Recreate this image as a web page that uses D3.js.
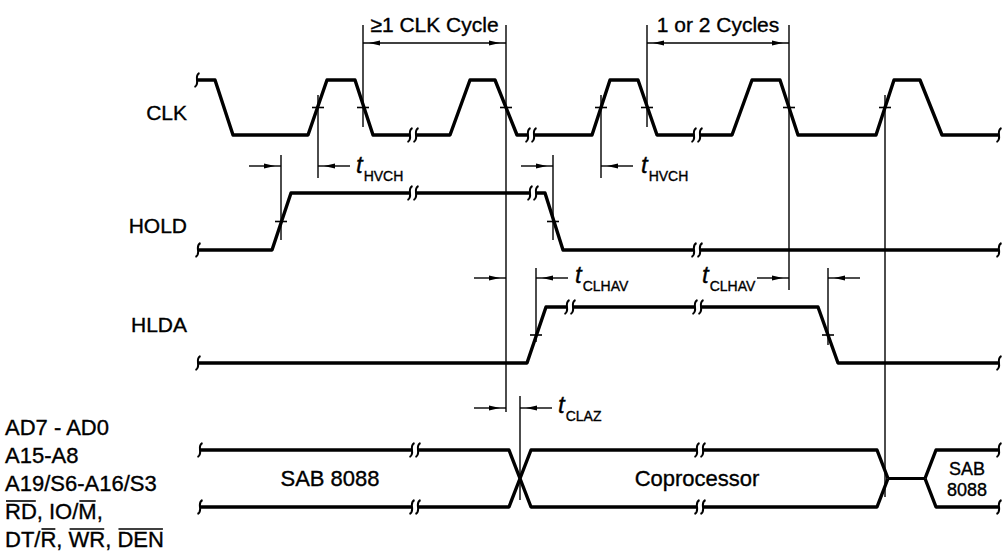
<!DOCTYPE html>
<html lang="en">
<head>
<meta charset="UTF-8">
<script src="https://cdnjs.cloudflare.com/ajax/libs/d3/7.9.0/d3.min.js"></script>
<title>HOLD / HLDA timing</title>
<style>
    body { margin: 0; background: white; }
    svg { display: block; font-family: "Liberation Sans", Arial, sans-serif; }
    text { stroke: black; stroke-width: 0.35; }
</style>
</head>
<body>
<div id="content"></div>
<script>
// waveforms: [time, level]
const clkWave = [[197,1],[215,1],[233,0],[308,0],[327,1],[355,1],[373,0],[450,0],[470,1],[495,1],[517,0],
    [592,0],[610,1],[638,1],[657,0],[732,0],[752,1],[780,1],[798,0],[876,0],[894,1],[920,1],[942,0],[999,0]];
const holdWave = [[198,0],[272,0],[291,1],[545,1],[563,0],[999,0]];
const hldaWave = [[198,0],[527,0],[546,1],[818,1],[838,0],[999,0]];

// break marks on each signal (time)
const clkBreaks = [413, 531, 697];
const holdBreaks = [413, 533, 697];
const hldaBreaks = [570, 698];
const busBreaks = [415, 700];

// bus states
const busStates = [
    { label: ["SAB 8088"], t0: 200, t1: 520, at: 330, open0: true },
    { label: ["Coprocessor"], t0: 520, t1: 888, at: 697 },
    { label: ["SAB", "8088"], t0: 925, t1: 999, at: 967, open1: true }
];
const busFloat = [[888, 925]];

const signalNames = ["CLK", "HOLD", "HLDA"];
const busNames = [
    [{ s: "AD7 - AD0" }],
    [{ s: "A15-A8" }],
    [{ s: "A19/S6-A16/S3" }],
    [{ s: "RD", o: 1 }, { s: ", IO/" }, { s: "M", o: 1 }, { s: "," }],
    [{ s: "DT/" }, { s: "R", o: 1 }, { s: ", " }, { s: "WR", o: 1 }, { s: ", " }, { s: "DEN", o: 1 }]
];

// reference lines: time, top, bottom
const refTimes = [318, 363, 506, 601, 647, 789, 885, 281, 553, 536, 828, 520];
const refTops = [95, 25, 25, 95, 25, 25, 95, 155, 155, 268, 268, 396];
const refBottoms = [178, 127, 412, 178, 127, 290, 497, 240, 240, 342, 345, 500];

// edge crossings marked with a tick
const crossSignals = ["clk","clk","clk","clk","clk","clk","clk","hold","hold","hlda","hlda"];
const crossTimes = [318, 363, 506, 601, 647, 789, 885, 281, 553, 536, 828];

// dimension arrows: time of line, side (-1 from left, 1 from right)
const dimTimes = [281, 553, 318, 601, 506, 536, 789, 828, 506, 520];
const dimSides = [-1, -1, 1, 1, -1, 1, -1, 1, -1, 1];
const dimRows = [166, 166, 166, 166, 278, 278, 278, 278, 408, 408];

// timing parameter labels
const paramNames = ["HVCH", "HVCH", "CLHAV", "CLHAV", "CLAZ"];
const paramTimes = [356, 641, 575, 702, 558];
const paramRows = [173, 173, 283, 283, 413];

// cycle brackets
const brackets = [
    { text: "≥1 CLK Cycle", t0: 363, t1: 506 },
    { text: "1 or 2 Cycles", t0: 647, t1: 789 }
];

const width = 1004, height = 556;
const svg = d3.select("#content").append("svg").attr("width", width).attr("height", height);
svg.append("rect").attr("width", width).attr("height", height).attr("fill", "white");

const x = d3.scaleLinear().domain([0, 1004]).range([0, 1004]);
const rows = {
    clk: d3.scaleLinear().domain([0, 1]).range([135, 80]),
    hold: d3.scaleLinear().domain([0, 1]).range([250, 193]),
    hlda: d3.scaleLinear().domain([0, 1]).range([363, 307]),
    bus: d3.scaleLinear().domain([0, 1]).range([507, 450])
};

const squig = (cx, cy) => `M${cx + 2.5},${cy - 7} C${cx - 4},${cy - 4} ${cx + 4},${cy + 4} ${cx - 2.5},${cy + 7}`;

function levelAt(wave, t) {
    for (let i = 1; i < wave.length; i++) {
        if (t <= wave[i][0]) {
            const a = wave[i - 1], b = wave[i];
            return a[1] + (b[1] - a[1]) * (t - a[0]) / (b[0] - a[0]);
        }
    }
    return wave[wave.length - 1][1];
}

const gRef = svg.append("g").attr("stroke", "black").attr("stroke-width", 1.4);
refTimes.forEach((t, i) => {
    gRef.append("line").attr("x1", x(t)).attr("x2", x(t)).attr("y1", refTops[i]).attr("y2", refBottoms[i]);
});

// waveforms
const line = (y) => d3.line().x(d => x(d[0])).y(d => y(d[1]));
const waves = { clk: [clkWave, clkBreaks], hold: [holdWave, holdBreaks], hlda: [hldaWave, hldaBreaks] };
Object.entries(waves).forEach(([k, [wave, brk]]) => {
    const y = rows[k];
    svg.append("path").attr("d", line(y)(wave)).attr("fill", "none").attr("stroke", "black")
        .attr("stroke-width", 3.4).attr("stroke-linejoin", "round");
    brk.forEach(t => {
        const cy = y(levelAt(wave, t));
        svg.append("rect").attr("x", x(t) - 3).attr("y", cy - 3).attr("width", 6).attr("height", 6).attr("fill", "white");
        [-3, 3].forEach(dx => svg.append("path").attr("d", squig(x(t) + dx, cy)).attr("fill", "none")
            .attr("stroke", "black").attr("stroke-width", 2));
    });
    const first = wave[0], last = wave[wave.length - 1];
    [first, last].forEach(p => svg.append("path").attr("d", squig(x(p[0]), y(p[1]))).attr("fill", "none")
        .attr("stroke", "black").attr("stroke-width", 2));
});

// bus
const yb = rows.bus, r = 11;
busStates.forEach(s => {
    const top = yb(1), bot = yb(0), mid = yb(0.5);
    const a = s.open0 ? x(s.t0) : x(s.t0) + r, b = s.open1 ? x(s.t1) : x(s.t1) - r;
    const dTop = (s.open0 ? `M${a},${top}` : `M${x(s.t0)},${mid} L${a},${top}`) + ` L${b},${top}` + (s.open1 ? "" : ` L${x(s.t1)},${mid}`);
    const dBot = (s.open0 ? `M${a},${bot}` : `M${x(s.t0)},${mid} L${a},${bot}`) + ` L${b},${bot}` + (s.open1 ? "" : ` L${x(s.t1)},${mid}`);
    [dTop, dBot].forEach(d => svg.append("path").attr("d", d).attr("fill", "none").attr("stroke", "black")
        .attr("stroke-width", 3.4).attr("stroke-linejoin", "round"));
    if (s.open0) [top, bot].forEach(yy => svg.append("path").attr("d", squig(a, yy)).attr("fill", "none").attr("stroke", "black").attr("stroke-width", 2));
    if (s.open1) [top, bot].forEach(yy => svg.append("path").attr("d", squig(b, yy)).attr("fill", "none").attr("stroke", "black").attr("stroke-width", 2));
    const n = s.label.length;
    const fs = n > 1 ? 18 : 22;
    s.label.forEach((l, i) => svg.append("text").attr("text-anchor", "middle").attr("font-size", fs).attr("fill", "black")
        .attr("x", x(s.at)).attr("y", mid + 7 + (i - (n - 1) / 2) * 21).text(l));
});
busFloat.forEach(f => svg.append("line").attr("x1", x(f[0])).attr("x2", x(f[1])).attr("y1", yb(0.5)).attr("y2", yb(0.5))
    .attr("stroke", "black").attr("stroke-width", 3.2));
busBreaks.forEach(t => [yb(1), yb(0)].forEach(cy => {
    svg.append("rect").attr("x", x(t) - 3).attr("y", cy - 3).attr("width", 6).attr("height", 6).attr("fill", "white");
    [-3, 3].forEach(dx => svg.append("path").attr("d", squig(x(t) + dx, cy)).attr("fill", "none")
        .attr("stroke", "black").attr("stroke-width", 2));
}));

// crossing ticks
crossTimes.forEach((t, i) => {
    const y = rows[crossSignals[i]](0.5);
    svg.append("line").attr("x1", x(t) - 6).attr("x2", x(t) + 6).attr("y1", y).attr("y2", y)
        .attr("stroke", "black").attr("stroke-width", 1.6);
});

// dimension arrows
function arrowHead(tipX, y, dir) {
    // dir: +1 points right, -1 points left
    return `M${tipX},${y} L${tipX - dir * 11},${y - 2.6} L${tipX - dir * 11},${y + 2.6} Z`;
}
dimTimes.forEach((t, i) => {
    const side = dimSides[i], y = dimRows[i], len = 32;
    const x0 = x(t), x1 = x0 + side * len;
    svg.append("line").attr("x1", x0).attr("x2", x1).attr("y1", y).attr("y2", y).attr("stroke", "black").attr("stroke-width", 1.4);
    svg.append("path").attr("d", arrowHead(x0 + side * 6, y, -side)).attr("fill", "black");
});

// parameter labels
paramNames.forEach((p, i) => {
    const t = svg.append("text").attr("x", x(paramTimes[i])).attr("y", paramRows[i]).attr("fill", "black");
    t.append("tspan").attr("font-size", 24).attr("font-style", "italic").text("t");
    t.append("tspan").attr("font-size", 14).attr("dy", 8).attr("dx", 1).text(p);
});

// brackets
brackets.forEach(b => {
    const y = 43;
    svg.append("line").attr("x1", x(b.t0)).attr("x2", x(b.t1)).attr("y1", y).attr("y2", y).attr("stroke", "black").attr("stroke-width", 1.4);
    svg.append("path").attr("d", arrowHead(x(b.t0) + 6, y, -1)).attr("fill", "black");
    svg.append("path").attr("d", arrowHead(x(b.t1) - 6, y, 1)).attr("fill", "black");
    svg.append("text").attr("x", (x(b.t0) + x(b.t1)) / 2).attr("y", 32).attr("text-anchor", "middle")
        .attr("font-size", 21).attr("fill", "black").text(b.text);
});

// signal names
const nameY = [120, 233, 332];
signalNames.forEach((n, i) => svg.append("text").attr("x", 187).attr("y", nameY[i]).attr("text-anchor", "end")
    .attr("font-size", 21).attr("fill", "black").text(n));

// bus names with overlines
busNames.forEach((parts, i) => {
    const t = svg.append("text").attr("x", 5).attr("y", 435 + i * 28).attr("font-size", 22).attr("fill", "black");
    const spans = parts.map(p => ({ p, el: t.append("tspan").attr("xml:space", "preserve").text(p.s) }));
    spans.filter(s => s.p.o).forEach(s => {
        const bb = s.el.node().getBBox();
        svg.append("line").attr("x1", bb.x + 1).attr("x2", bb.x + bb.width - 1).attr("y1", bb.y + 2).attr("y2", bb.y + 2)
            .attr("stroke", "black").attr("stroke-width", 1.6);
    });
});
</script>
</body>
</html>
